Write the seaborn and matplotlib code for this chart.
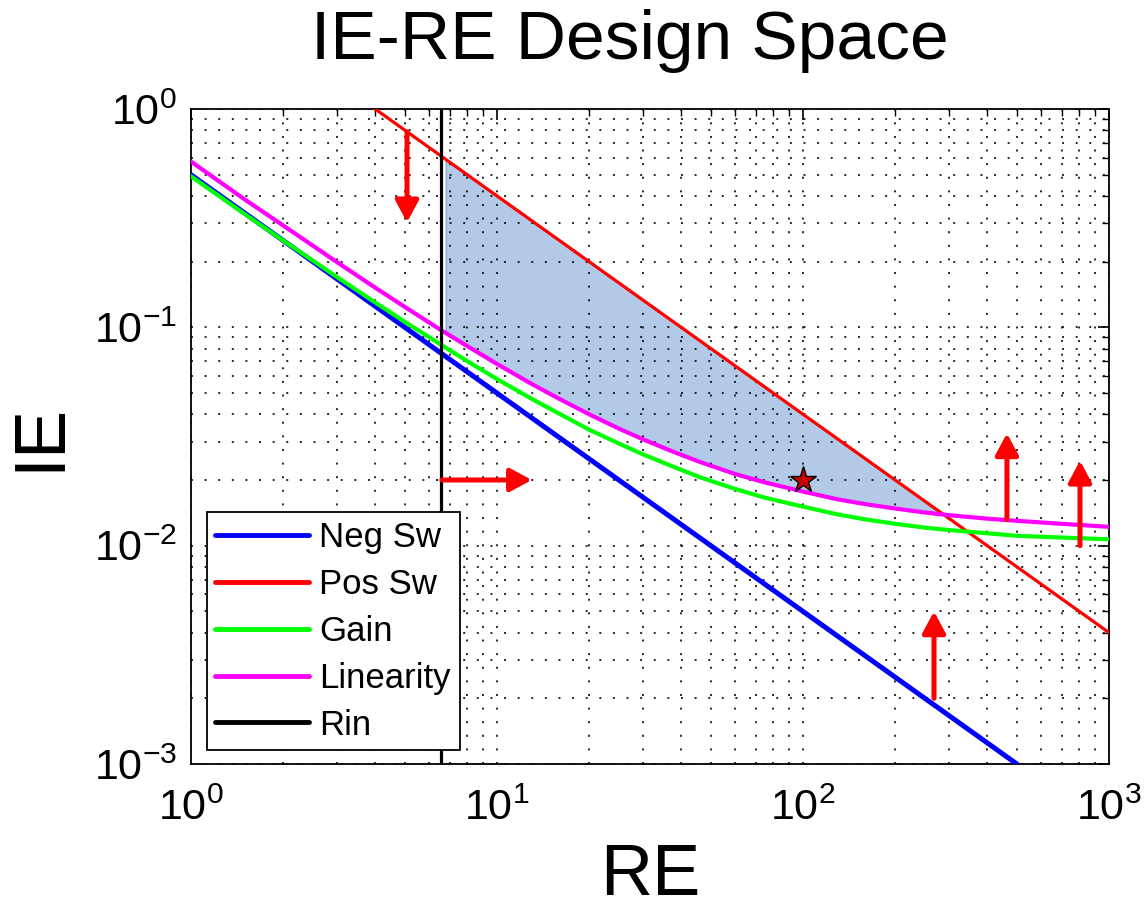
import numpy as np
import matplotlib
matplotlib.use("Agg")
import matplotlib.pyplot as plt
import seaborn as sns
from matplotlib.patches import FancyArrowPatch, ArrowStyle
from matplotlib.ticker import LogLocator, LogFormatterMathtext, NullFormatter

# --- constraint boundaries in the IE-RE plane ---
neg_sw_re = [1.0, 500.0]
neg_sw_ie = [0.5, 0.001]

pos_sw_re = [4.0, 1000.0]
pos_sw_ie = [1.0, 0.004]

curve_re = [1, 1.5, 2, 3, 4, 5, 6.5, 8, 10, 13, 16, 20, 25, 30, 38, 46, 60, 75,
            100, 130, 160, 200, 250, 300, 400, 500, 700, 1000]
gain_ie = [0.492, 0.330, 0.250, 0.170, 0.130, 0.106, 0.084, 0.070, 0.0580, 0.0470,
           0.0402, 0.0340, 0.0294, 0.0262, 0.0229, 0.0206, 0.0182, 0.0166,
           0.0151, 0.0139, 0.0132, 0.0126, 0.0121, 0.0118, 0.0114, 0.0111, 0.0109, 0.0107]
linearity_ie = [0.575, 0.385, 0.293, 0.199, 0.152, 0.124, 0.098, 0.082, 0.068, 0.055,
                0.047, 0.040, 0.0344, 0.0307, 0.0268, 0.0242, 0.0213, 0.0195,
                0.0177, 0.0163, 0.0155, 0.0148, 0.0142, 0.0138, 0.0133, 0.0130, 0.0126, 0.0122]

rin_re = [6.55, 6.55]
rin_ie = [1e-3, 1.0]

# feasible design region (bounded below by linearity, above by positive swing)
region_re = [6.8, 8, 10, 13, 16, 20, 25, 30, 38, 46, 60, 75, 100, 130, 160, 200, 250, 290]
region_low = [0.094, 0.082, 0.068, 0.055, 0.047, 0.040, 0.0344, 0.0307, 0.0268, 0.0242,
              0.0213, 0.0195, 0.0177, 0.0163, 0.0155, 0.0148, 0.0142, 0.0138]

# chosen design point
design_re = [100]
design_ie = [0.02]

# direction arrows: start (RE, IE) -> end (RE, IE)
arrow_x0 = [5.08, 6.6, 268, 464, 804]
arrow_y0 = [0.787, 0.020, 0.0020, 0.0132, 0.0100]
arrow_x1 = [5.08, 13.0, 268, 464, 804]
arrow_y1 = [0.303, 0.020, 0.0050, 0.0327, 0.0245]

sns.set_theme(style="white")
plt.rcParams["font.family"] = ["Liberation Sans", "DejaVu Sans"]
plt.rcParams["mathtext.fontset"] = "custom"
plt.rcParams["mathtext.rm"] = "Liberation Sans"
plt.rcParams["mathtext.it"] = "Liberation Sans:italic"
plt.rcParams["mathtext.bf"] = "Liberation Sans:bold"
plt.rcParams["axes.unicode_minus"] = False
plt.rcParams["text.color"] = "black"
plt.rcParams["axes.labelcolor"] = "black"
plt.rcParams["xtick.color"] = "black"
plt.rcParams["ytick.color"] = "black"

fig = plt.figure(figsize=(11.46, 9.09), dpi=100)
ax = fig.add_axes([0.1667, 0.1595, 0.801, 0.7205])
ax.set_xscale("log")
ax.set_yscale("log")

# shaded feasible region
log_re = np.log10(region_re)
upper = 10 ** np.interp(log_re, np.log10(pos_sw_re), np.log10(pos_sw_ie))
ax.fill_between(region_re, region_low, upper, facecolor="#b3c9e8",
                edgecolor="#86a8da", linewidth=1.0, zorder=1)

common = dict(ax=ax, zorder=3, estimator=None, sort=False)
sns.lineplot(x=neg_sw_re, y=neg_sw_ie, color="#0000ff", lw=3.6, label="Neg Sw", **common)
sns.lineplot(x=pos_sw_re, y=pos_sw_ie, color="#ff0000", lw=2.3, label="Pos Sw", **common)
sns.lineplot(x=curve_re, y=gain_ie, color="#00ff00", lw=3.0, label="Gain", **common)
sns.lineplot(x=curve_re, y=linearity_ie, color="#ff00ff", lw=3.0, label="Linearity", **common)
sns.lineplot(x=rin_re, y=rin_ie, color="black", lw=2.3, label="Rin", **common)

ax.plot(design_re, design_ie, marker="*", markersize=20, color="#c80000",
        markeredgecolor="black", markeredgewidth=1.0, linestyle="none", zorder=5)

head = ArrowStyle("-|>", head_length=13, head_width=7)
for x0, y0, x1, y1 in zip(arrow_x0, arrow_y0, arrow_x1, arrow_y1):
    ax.add_patch(FancyArrowPatch((x0, y0), (x1, y1), arrowstyle=head,
                                 mutation_scale=1, color="#ff0000", lw=3.6,
                                 shrinkA=0, shrinkB=0, zorder=4))

ax.set_xlim(1, 1000)
ax.set_ylim(1e-3, 1)

ax.xaxis.set_major_locator(LogLocator(base=10, numticks=10))
ax.yaxis.set_major_locator(LogLocator(base=10, numticks=10))
ax.xaxis.set_minor_locator(LogLocator(base=10, subs=np.arange(2, 10), numticks=40))
ax.yaxis.set_minor_locator(LogLocator(base=10, subs=np.arange(2, 10), numticks=40))
ax.xaxis.set_major_formatter(LogFormatterMathtext())
ax.yaxis.set_major_formatter(LogFormatterMathtext())
ax.xaxis.set_minor_formatter(NullFormatter())
ax.yaxis.set_minor_formatter(NullFormatter())

ax.set_axisbelow(False)
ax.grid(True, which="both", color="black", linestyle=(0, (1, 6)), linewidth=1.4, alpha=0.85)

ax.tick_params(which="both", direction="in", top=True, right=True, colors="black")
ax.tick_params(which="major", length=8, width=1.2, labelsize=31)
ax.tick_params(axis="x", which="major", pad=18)
ax.tick_params(axis="y", which="major", pad=10)
ax.tick_params(which="minor", length=5, width=1.0)
for s in ax.spines.values():
    s.set_color("black")
    s.set_linewidth(1.3)

ax.set_title("IE-RE Design Space", fontsize=50, pad=36, x=0.478)
ax.set_xlabel("RE", fontsize=52, labelpad=10)
ax.set_ylabel("IE", fontsize=52, labelpad=14)

leg = ax.legend(loc="lower left", bbox_to_anchor=(0.017, 0.021), borderaxespad=0,
                fontsize=25, handlelength=2.7, handletextpad=0.3, labelspacing=0.4,
                borderpad=0.25, frameon=True, fancybox=False, framealpha=1)
leg.get_frame().set_edgecolor("black")
leg.get_frame().set_linewidth(1.3)
for h in leg.get_lines():
    h.set_linewidth(3.5)

fig.savefig("out.png", dpi=100, facecolor="white")
